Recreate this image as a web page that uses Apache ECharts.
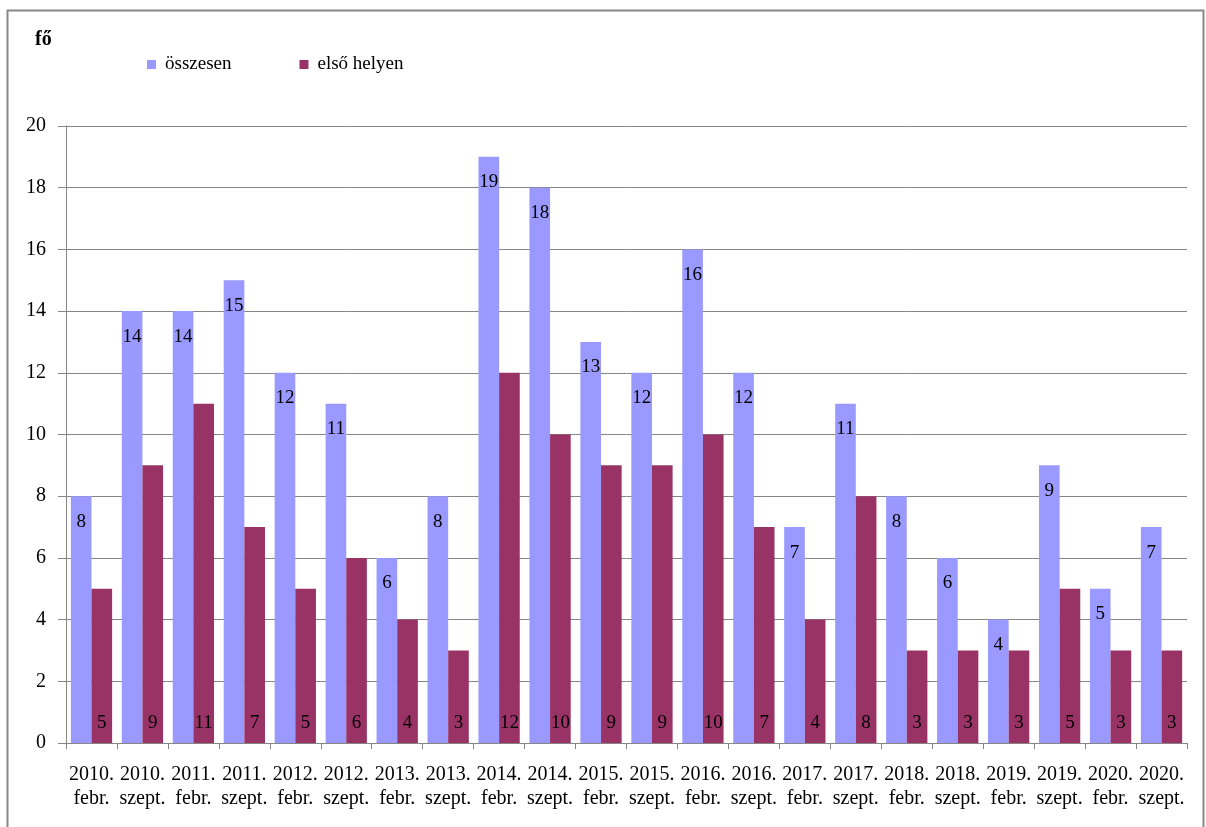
<!DOCTYPE html>
<html>
<head>
<meta charset="utf-8">
<script src="https://cdn.jsdelivr.net/npm/echarts@6/dist/echarts.min.js"></script>
<style>
  html, body { margin: 0; padding: 0; background: #fff; }
  #main { width: 1206px; height: 827px; }
</style>
</head>
<body>
<div id="main"></div>
<script>
// categories: year + session
const years = ["2010.", "2010.", "2011.", "2011.", "2012.", "2012.", "2013.", "2013.", "2014.", "2014.", "2015.",
  "2015.", "2016.", "2016.", "2017.", "2017.", "2018.", "2018.", "2019.", "2019.", "2020.", "2020."];
const sessions = ["febr.", "szept.", "febr.", "szept.", "febr.", "szept.", "febr.", "szept.", "febr.", "szept.", "febr.",
  "szept.", "febr.", "szept.", "febr.", "szept.", "febr.", "szept.", "febr.", "szept.", "febr.", "szept."];
const osszesen = [8, 14, 14, 15, 12, 11, 6, 8, 19, 18, 13, 12, 16, 12, 7, 11, 8, 6, 4, 9, 5, 7];
const elsoHelyen = [5, 9, 11, 7, 5, 6, 4, 3, 12, 10, 9, 9, 10, 7, 4, 8, 3, 3, 3, 5, 3, 3];

const categories = years.map((y, i) => y + "\n" + sessions[i]);
const font = "'Liberation Serif', 'Times New Roman', serif";

const chart = echarts.init(document.getElementById("main"));
chart.setOption({
  animation: false,
  textStyle: { fontFamily: font },
  graphic: [
    {
      type: "rect",
      shape: { x: 7.5, y: 10.5, width: 1196, height: 830 },
      style: { fill: "none", stroke: "#878787", lineWidth: 2 },
    },
    {
      type: "text",
      left: 35,
      top: 30,
      style: { text: "fő", font: "bold 20px " + font, fill: "#000" },
    },
  ],
  legend: {
    left: 142,
    top: 50,
    itemWidth: 9,
    itemHeight: 9,
    itemGap: 68,
    icon: "rect",
    textStyle: { fontFamily: font, fontSize: 19, color: "#000", padding: [0, 0, 0, 4] },
    data: ["összesen", "első helyen"],
  },
  grid: { left: 66, right: 19, top: 126, bottom: 84, containLabel: false },
  xAxis: {
    type: "category",
    data: categories,
    axisLine: { lineStyle: { color: "#868686" } },
    axisTick: { show: true, length: 6, lineStyle: { color: "#868686" } },
    axisLabel: {
      interval: 0,
      margin: 20,
      color: "#000",
      fontFamily: font,
      fontSize: 20,
      lineHeight: 24,
    },
  },
  yAxis: {
    type: "value",
    min: 0,
    max: 20,
    interval: 2,
    axisLine: { show: true, lineStyle: { color: "#868686" } },
    axisTick: { show: true, length: 8, lineStyle: { color: "#868686" } },
    splitLine: { lineStyle: { color: "#868686" } },
    axisLabel: { color: "#000", fontFamily: font, fontSize: 20, margin: 20 },
  },
  series: [
    {
      name: "összesen",
      type: "bar",
      data: osszesen,
      barGap: "0%",
      barCategoryGap: "19%",
      itemStyle: { color: "#9999FF" },
      label: {
        show: true,
        position: "insideTop",
        distance: 16,
        color: "#000",
        fontFamily: font,
        fontSize: 19,
      },
    },
    {
      name: "első helyen",
      type: "bar",
      data: elsoHelyen,
      itemStyle: { color: "#993366" },
      label: {
        show: true,
        position: "insideBottom",
        distance: 10,
        color: "#000",
        fontFamily: font,
        fontSize: 19,
      },
    },
  ],
});
</script>
</body>
</html>
